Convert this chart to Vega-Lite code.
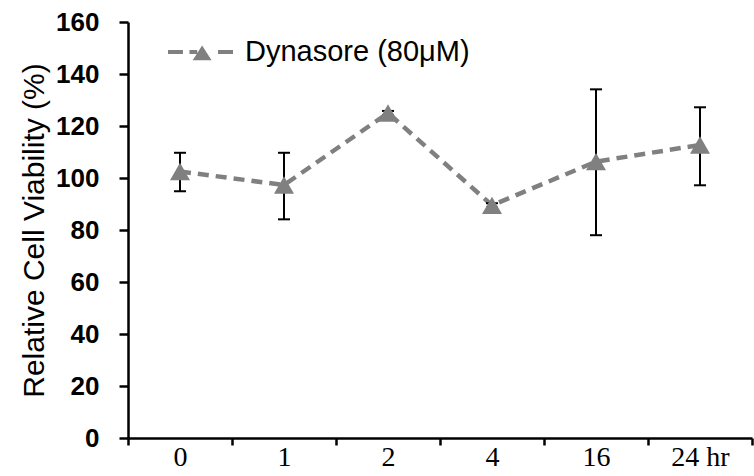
{
  "$schema": "https://vega.github.io/schema/vega-lite/v6.json",
  "width": 624,
  "height": 416,
  "autosize": "none",
  "padding": {"left": 128, "top": 22, "right": 2, "bottom": 38},
  "background": "white",
  "config": {"view": {"stroke": null}},
  "data": {
    "values": [
      {"time": "0", "mean": 102.5, "lo": 94.9, "hi": 109.7, "series": "Dynasore (80μM)"},
      {"time": "1", "mean": 97.3, "lo": 84.1, "hi": 109.7, "series": "Dynasore (80μM)"},
      {"time": "2", "mean": 125, "lo": 124.2, "hi": 125.8, "series": "Dynasore (80μM)"},
      {"time": "4", "mean": 89.5, "lo": 88.7, "hi": 90.3, "series": "Dynasore (80μM)"},
      {"time": "16", "mean": 106.3, "lo": 78, "hi": 134.1, "series": "Dynasore (80μM)"},
      {"time": "24 hr", "mean": 112.7, "lo": 97.2, "hi": 127.2, "series": "Dynasore (80μM)"}
    ]
  },
  "encoding": {
    "x": {
      "field": "time",
      "type": "nominal",
      "sort": null,
      "bandPosition": 0.5,
      "scale": {"type": "band", "paddingInner": 0, "paddingOuter": 0},
      "axis": {
        "title": null,
        "labelAngle": 0,
        "labelFont": "Liberation Serif",
        "labelFontSize": 28,
        "labelColor": "black",
        "labelPadding": -2,
        "tickBand": "extent",
        "tickSize": 7,
        "tickWidth": 2.5,
        "tickColor": "black",
        "domainColor": "black",
        "domainWidth": 2.5,
        "grid": false
      }
    }
  },
  "layer": [
    {
      "mark": {"type": "line", "color": "#808080", "strokeWidth": 4.5, "strokeDash": [11, 7]},
      "encoding": {
        "y": {
          "field": "mean",
          "type": "quantitative",
          "scale": {"domain": [0, 160], "nice": false},
          "axis": {
            "title": "Relative Cell Viability (%)",
            "titleFont": "Liberation Sans",
            "titleFontSize": 30,
            "titleFontWeight": "normal",
            "titleColor": "black",
            "titlePadding": 6,
            "values": [0, 20, 40, 60, 80, 100, 120, 140, 160],
            "labelFont": "Liberation Sans",
            "labelFontWeight": "bold",
            "labelFontSize": 26,
            "labelColor": "black",
            "labelPadding": 20,
            "tickSize": 9,
            "tickWidth": 2.5,
            "tickColor": "black",
            "domainColor": "black",
            "domainWidth": 2.5,
            "grid": false
          }
        }
      }
    },
    {
      "mark": {"type": "rule", "color": "black", "strokeWidth": 2},
      "encoding": {
        "y": {"field": "lo", "type": "quantitative"},
        "y2": {"field": "hi"}
      }
    },
    {
      "mark": {"type": "tick", "color": "black", "thickness": 2, "size": 12, "opacity": 1},
      "encoding": {"y": {"field": "lo", "type": "quantitative"}}
    },
    {
      "mark": {"type": "tick", "color": "black", "thickness": 2, "size": 12, "opacity": 1},
      "encoding": {"y": {"field": "hi", "type": "quantitative"}}
    },
    {
      "mark": {"type": "point", "shape": "triangle-up", "filled": true, "opacity": 1, "size": 400},
      "encoding": {
        "y": {"field": "mean", "type": "quantitative"},
        "color": {
          "field": "series",
          "type": "nominal",
          "scale": {"range": ["#808080"]},
          "legend": {
            "title": null,
            "orient": "none",
            "legendX": 40,
            "legendY": -2.5,
            "padding": 0,
            "symbolType": "M-1,-0.062H-0.54V0.062H-1Z M-0.34,-0.062H-0.1V0.062H-0.34Z M0.54,-0.062H1V0.062H0.54Z M-0.24,0.25L0.05,-0.2L0.34,0.25Z",
            "symbolSize": 4225,
            "symbolStrokeWidth": 0,
            "symbolFillColor": "#808080",
            "labelFont": "Liberation Sans",
            "labelFontSize": 29,
            "labelColor": "black",
            "labelOffset": 12,
            "labelLimit": 0
          }
        }
      }
    }
  ]
}
